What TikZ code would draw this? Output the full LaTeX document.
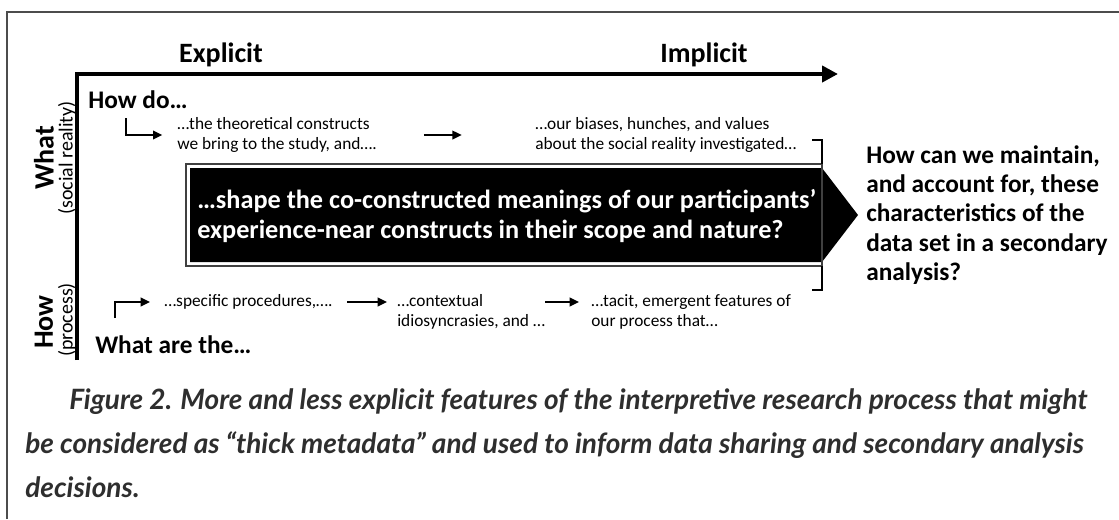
\documentclass[tikz,border=0pt]{standalone}
\usepackage{fontspec}
\setmainfont{Carlito}
\newfontfamily\capfont{Lato}
\usetikzlibrary{arrows.meta}
\tikzset{
    lbl/.style={inner sep=0pt, anchor=west, align=left, font=\fontsize{13}{15.5}\selectfont},
    hdr/.style={inner sep=0pt, anchor=west, align=left, font=\bfseries\fontsize{19}{22}\selectfont},
    side/.style={inner sep=0pt, rotate=90, font=\bfseries\fontsize{21}{24}\selectfont},
    sidesub/.style={inner sep=0pt, rotate=90, font=\fontsize{15}{18}\selectfont},
    arr/.style={line width=1.25pt, -{Triangle[length=7pt, width=6.5pt]}},
    brk/.style={line width=1.1pt},
}
\begin{document}
\begin{tikzpicture}[x=0.75pt, y=-0.75pt]
                    \useasboundingbox (0, 0) rectangle (1119, 519);
                    \draw[color=black!70, line width=1pt](7, 519) -- (7, 12) -- (1119, 12);
                    \coordinate (org) at (77, 74);
                    \coordinate (axend) at (838, 74);
                    \coordinate (axbot) at (77, 360);
                    \draw[line width=3pt, -{Triangle[length=12pt, width=12pt]}](axbot) -- (org) -- (axend);
                    \node[font=\bfseries\fontsize{21}{24}\selectfont] (expl) at (221, 55) {Explicit};
                    \node[font=\bfseries\fontsize{21}{24}\selectfont] (impl) at (704, 55) {Implicit};
                    \node[side] (what) at (44, 158) {What};
                    \node[sidesub] (social) at (67, 158) {(social reality)};
                    \node[side] (how) at (44, 322) {How};
                    \node[sidesub] (process) at (67, 320) {(process)};
                    \node[hdr] (howdo) at (88, 100) {How do…};
                    \node[lbl] (theo) at (177, 135) {…the theoretical constructs\\we bring to the study, and….};
                    \node[lbl] (bias) at (535, 135) {…our biases, hunches, and values\\about the social reality investigated…};
                    \coordinate (hd) at (126, 118);
                    \draw[arr, shorten >=11pt](hd) |- (theo.west);
                    \draw[arr, shorten <=35pt, shorten >=55pt](theo.east) -- (bias.west);
                    \fill[black](190, 168) -- (822, 168) -- (858, 215) -- (822, 262) -- (190, 262) -- cycle;
                    \draw[color=black!75, line width=0.8pt](186, 164) rectangle (822, 266);
                    \draw[brk](812, 140) -- (822, 140) -- (822, 164);
                    \draw[brk](822, 266) -- (822, 290) -- (812, 290);
                    \node[inner sep=0pt, anchor=west, align=left, text=white, font=\bfseries\fontsize{19.7}{23}\selectfont] (core) at (197, 216) {…shape the co-constructed meanings of our participants’\\experience-near constructs in their scope and nature?};
                    \node[hdr] (ask) at (866, 215) {How can we maintain,\\and account for, these\\characteristics of the\\data set in a secondary\\analysis?};
                    \node[lbl] (spec) at (164, 302) {…specific procedures,….};
                    \node[lbl] (ctx) at (397, 312) {…contextual\\idiosyncrasies, and …};
                    \node[lbl] (tacit) at (591, 312) {…tacit, emergent features of\\our process that…};
                    \node[hdr] (whatare) at (95, 345) {What are the…};
                    \coordinate (wa) at (115, 318);
                    \draw[arr, shorten >=10.5pt](wa) |- (spec.west);
                    \draw[arr, shorten <=11pt, shorten >=7.5pt](spec.east) -- (spec.east -| ctx.west);
                    \draw[arr, shorten >=9pt](spec.east -| ctx.east) -- (spec.east -| tacit.west);
                    \node[inner sep=0pt, anchor=west, align=left, text=black!82, font=\capfont\bfseries\itshape\fontsize{21}{33}\selectfont] (fig) at (25, 443) {\hspace*{33pt}Figure 2. More and less explicit features of the interpretive research process that might\\be considered as “thick metadata” and used to inform data sharing and secondary analysis\\decisions.};
                \end{tikzpicture}
\end{document}
